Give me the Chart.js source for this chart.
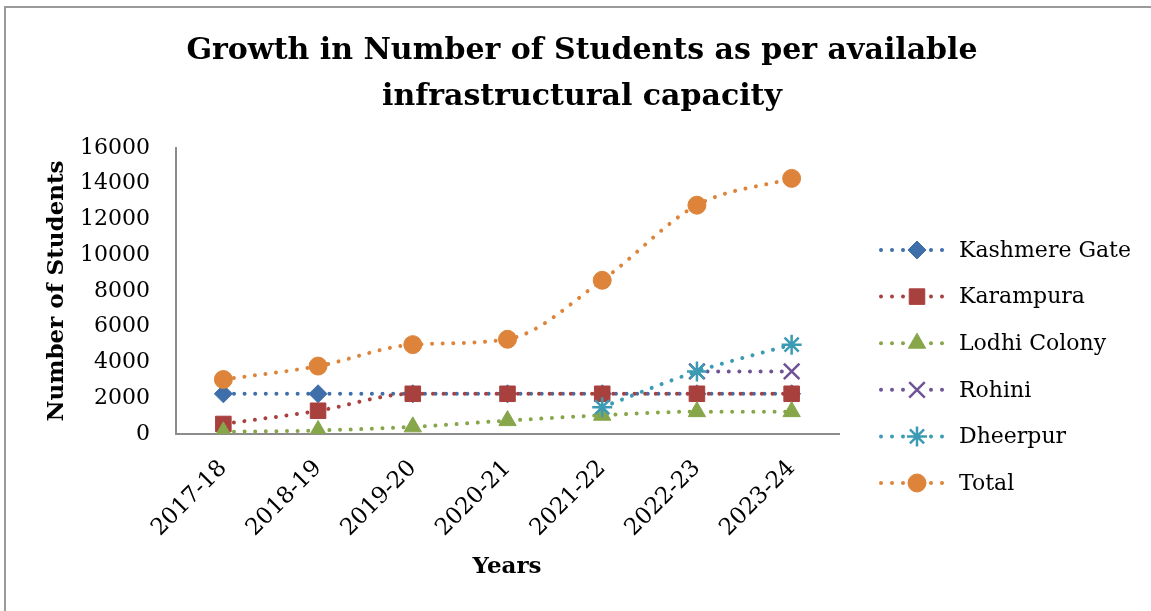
<!DOCTYPE html>
<html>
<head>
<meta charset="utf-8">
<script src="https://cdn.jsdelivr.net/npm/chart.js@4.4.1/dist/chart.umd.min.js"></script>
<style>
html,body{margin:0;padding:0;background:#fff;}
#wrap{position:relative;width:1151px;height:611px;overflow:hidden;}
#frame{position:absolute;left:4px;top:6px;width:1200px;height:700px;border-left:2px solid #9a9a9a;border-top:2px solid #9a9a9a;}
canvas{position:absolute;left:0;top:0;}
</style>
</head>
<body>
<div id="wrap"><div id="frame"></div><canvas id="c" width="1151" height="611"></canvas></div>
<script>
const titleLines = ['Growth in Number of Students as per available', 'infrastructural capacity'];
const xTitle = 'Years';
const yTitle = 'Number of Students';
const years = ['2017-18','2018-19','2019-20','2020-21','2021-22','2022-23','2023-24'];
const seriesNames = ['Kashmere Gate','Karampura','Lodhi Colony','Rohini','Dheerpur','Total'];
const kashmereGate = [2250,2250,2250,2250,2250,2250,2250];
const karampura = [560,1300,2250,2250,2250,2250,2250];
const lodhiColony = [120,200,400,750,1050,1250,1250];
const rohini = [null,null,null,null,null,3500,3500];
const dheerpur = [null,null,null,null,1500,3500,5000];
const total = [3050,3800,5000,5300,8600,12800,14300];
const yTicks = [0,2000,4000,6000,8000,10000,12000,14000,16000];

const colors = ['#3f6fab','#a8403e','#87a64a','#6e5398','#3c9bb4','#dd843a'];
const styles = ['rectRot','rect','triangle','crossRot','star','circle'];
const radii = [9,11,10,11,10,9];
const values = [kashmereGate,karampura,lodhiColony,rohini,dheerpur,total];
const FONT = "'DejaVu Serif', serif";

const datasets = values.map((v,i)=>({
  label: seriesNames[i],
  data: v,
  borderColor: colors[i],
  backgroundColor: colors[i],
  borderWidth: 4,
  borderDash: [0.01, 10.6],
  borderCapStyle: 'round',
  pointStyle: styles[i],
  pointRadius: radii[i],
  pointBorderWidth: (styles[i]==='crossRot'||styles[i]==='star') ? 2.5 : 1,
  pointBackgroundColor: colors[i],
  pointBorderColor: colors[i],
  cubicInterpolationMode: 'monotone',
  spanGaps: false,
  order: 6 - i
}));

const decor = {
  id:'decor',
  afterDraw(chart){
    const ctx = chart.ctx;
    ctx.save();
    ctx.fillStyle = '#000';
    ctx.textAlign = 'center';
    ctx.textBaseline = 'middle';
    ctx.font = "bold 30px " + FONT;
    ctx.fillText(titleLines[0], 582, 51);
    ctx.fillText(titleLines[1], 582, 97);
    ctx.font = "bold 23px " + FONT;
    ctx.fillText(xTitle, 507, 567);
    ctx.save();
    ctx.translate(57, 291);
    ctx.rotate(-Math.PI/2);
    ctx.fillText(yTitle, 0, 0);
    ctx.restore();
    // legend
    const ly0 = 250, ldy = 46.6;
    ctx.font = "22px " + FONT;
    ctx.textAlign = 'left';
    seriesNames.forEach((n,i)=>{
      const y = ly0 + i*ldy;
      ctx.fillStyle = colors[i];
      [881,892,903,931,942].forEach(x=>{ctx.beginPath();ctx.arc(x,y,2,0,Math.PI*2);ctx.fill();});
      ctx.strokeStyle = colors[i];
      ctx.lineWidth = (styles[i]==='crossRot'||styles[i]==='star') ? 2.5 : 1;
      Chart.helpers.drawPoint(ctx, {pointStyle: styles[i], radius: radii[i], rotation: 0, borderWidth: ctx.lineWidth}, 917, y);
      ctx.fillStyle = '#000';
      ctx.fillText(n, 959, y+1);
    });
    ctx.restore();
  }
};

new Chart(document.getElementById('c'), {
  type:'line',
  data:{labels: years, datasets},
  options:{
    responsive:false,
    animation:false,
    layout:{padding:{left:0, top:148, right:1151-839, bottom:0}},
    plugins:{legend:{display:false}, title:{display:false}, tooltip:{enabled:false}},
    scales:{
      x:{
        offset:true,
        grid:{display:false, drawTicks:false},
        border:{display:true, color:'#8c8c8c', width:2},
        ticks:{color:'#000', font:{family:FONT, size:23}, minRotation:45, maxRotation:45, padding:21, autoSkip:false},
        afterFit(s){ s.height = 611-434; }
      },
      y:{
        min:0, max:16000,
        afterBuildTicks(s){ s.ticks = yTicks.map(v=>({value:v})); },
        grid:{display:false, drawTicks:false},
        border:{display:true, color:'#8c8c8c', width:2},
        ticks:{color:'#000', font:{family:FONT, size:22}, padding:26, callback:(v)=>String(v)},
        afterFit(s){ s.width = 176; }
      }
    }
  },
  plugins:[decor]
});
</script>
</body>
</html>
